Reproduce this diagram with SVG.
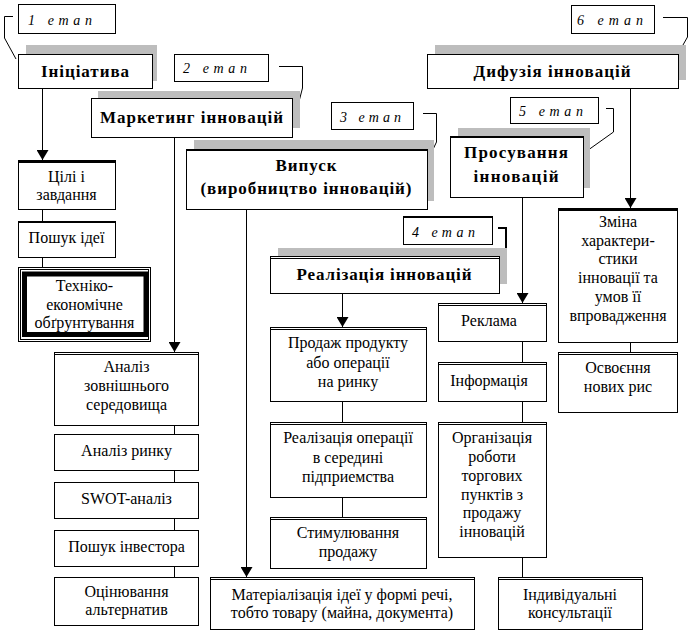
<svg xmlns="http://www.w3.org/2000/svg" width="694" height="632" viewBox="0 0 694 632">
<style>
.b{fill:#fff;stroke:#000;stroke-width:1}
.sh{fill:#bdbdbd}
.ln{fill:none;stroke:#000;stroke-width:1}
.tk{fill:none;stroke:#000;stroke-width:3}
.t{font-family:'Liberation Serif','Times New Roman',serif;font-size:16px;text-anchor:middle;fill:#000}
.h{font-family:'Liberation Serif','Times New Roman',serif;font-size:17px;font-weight:bold;text-anchor:middle;fill:#000}
.e{font-family:'Liberation Serif','Times New Roman',serif;font-size:14px;font-style:italic;fill:#000}
</style>
<defs>
<marker id="arr" markerUnits="userSpaceOnUse" markerWidth="10" markerHeight="12" refX="10" refY="6" orient="auto">
<path d="M0,0 L10,6 L0,12 z" fill="#000"/>
</marker>
</defs>
<rect width="694" height="632" fill="#fff"/>

<g id="connectors">
<path class="ln" d="M42.5,88 V160" marker-end="url(#arr)"/>
<path class="ln" d="M174.5,137 V352" marker-end="url(#arr)"/>
<path class="ln" d="M246.5,209 V577" marker-end="url(#arr)"/>
<path class="ln" d="M630.5,88 V208" marker-end="url(#arr)"/>
<path class="ln" d="M522.5,197 V303" marker-end="url(#arr)"/>
<path class="ln" d="M342.5,293 V327" marker-end="url(#arr)"/>
<path class="ln" d="M42.5,209 V221 M42.5,258 V267"/>
<path class="ln" d="M174.5,425 V434 M174.5,470 V482 M174.5,518 V530 M174.5,566 V578"/>
<path class="ln" d="M342.5,401 V422 M342.5,497 V517"/>
<path class="ln" d="M522.5,341 V362 M522.5,401 V422 M522.5,557 V577"/>
<path class="ln" d="M630.5,342 V352"/>
<polyline class="ln" points="13,16.5 4.5,16.5 4.5,38 16,59"/>
<polyline class="ln" points="279,66.5 302.5,66.5 302.5,88 295,117"/>
<polyline class="ln" points="423,113.5 436.5,113.5 436.5,142 427,162"/>
<polyline class="ln" style="stroke-width:2" points="498,228 506,228 506,250 499,268"/>
<polyline class="ln" points="606,108.5 613.5,108.5 613.5,132 584,153"/>
<polyline class="ln" points="663,17.5 687.5,17.5 687.5,37 679,52"/>
</g>

<g id="etap1"><rect class="b" x="18.5" y="4.5" width="97" height="29"/><text class="e" x="28" y="25" textLength="64">1 етап</text></g>
<g id="etap2"><rect class="b" x="174.5" y="54.5" width="94" height="27"/><text class="e" x="183" y="73" textLength="64">2 етап</text></g>
<g id="etap3"><rect class="b" x="331.5" y="102.5" width="82" height="27"/><text class="e" x="340" y="122" textLength="61">3 етап</text></g>
<g id="etap4"><rect class="b" x="403.5" y="216.5" width="89" height="28"/><line class="ln" x1="403" y1="217.5" x2="493" y2="217.5"/><text class="e" x="412" y="237" textLength="63">4 етап</text></g>
<g id="etap5"><rect class="b" x="510.5" y="97.5" width="88" height="26"/><text class="e" x="519" y="116" textLength="64">5 етап</text></g>
<g id="etap6"><rect class="b" x="571.5" y="5.5" width="83" height="28"/><text class="e" x="577" y="25" textLength="66">6 етап</text></g>

<g id="initiative"><rect class="sh" x="26" y="45" width="131" height="36"/><rect class="b" x="18.5" y="54.5" width="134" height="34"/><text class="h" x="85" y="77" textLength="88">Ініціатива</text></g>
<g id="marketing"><rect class="sh" x="98" y="91" width="202" height="37"/><rect class="b" x="91.5" y="98.5" width="201" height="39"/><text class="h" x="191.5" y="123" textLength="183">Маркетинг інновацій</text></g>
<g id="release"><rect class="sh" x="194" y="140" width="240" height="61"/><rect class="b" x="186.5" y="149.5" width="241" height="60"/><line class="ln" x1="186" y1="150.5" x2="428" y2="150.5"/><text class="h" x="306" y="171" textLength="61">Випуск</text><text class="h" x="306" y="194" textLength="211">(виробництво інновацій)</text></g>
<g id="diffusion"><rect class="sh" x="435" y="45" width="251" height="35"/><rect class="b" x="427.5" y="54.5" width="251" height="34"/><text class="h" x="552" y="77" textLength="157">Дифузія інновацій</text></g>
<g id="promotion"><rect class="sh" x="458" y="128" width="132" height="60"/><rect class="b" x="450.5" y="136.5" width="133" height="61"/><line class="ln" x1="450" y1="137.5" x2="584" y2="137.5"/><text class="h" x="516" y="158" textLength="104">Просування</text><text class="h" x="516" y="182" textLength="85">інновацій</text></g>
<g id="realization"><rect class="sh" x="278" y="248" width="229" height="36"/><rect class="b" x="270.5" y="256.5" width="229" height="37"/><line class="ln" x1="270" y1="258.5" x2="500" y2="258.5"/><text class="h" x="384" y="280" textLength="175">Реалізація інновацій</text></g>

<g id="goals"><rect class="b" x="18.5" y="160.5" width="97" height="49"/><line class="tk" x1="18" y1="161.5" x2="116" y2="161.5"/><text class="t" x="66.5" y="182">Цілі і</text><text class="t" x="66.5" y="200">завдання</text></g>
<g id="idea"><rect class="b" x="18.5" y="221.5" width="97" height="36"/><line class="ln" x1="18" y1="222.5" x2="116" y2="222.5"/><text class="t" x="66.5" y="243">Пошук ідеї</text></g>
<g id="feasibility"><rect class="b" x="18.5" y="267.5" width="132" height="74"/><rect class="ln" x="20.5" y="269.5" width="128" height="70"/><rect fill="none" stroke="#000" stroke-width="5" x="24.5" y="274" width="121.5" height="60.5"/><text class="t" x="84.5" y="291">Техніко-</text><text class="t" x="84.5" y="310">економічне</text><text class="t" x="84.5" y="328">обґрунтування</text></g>

<g id="env"><rect class="b" x="54.5" y="352.5" width="144" height="73"/><line class="ln" x1="54" y1="354.5" x2="199" y2="354.5"/><text class="t" x="126.5" y="372">Аналіз</text><text class="t" x="126.5" y="391">зовнішнього</text><text class="t" x="126.5" y="410">середовища</text></g>
<g id="market"><rect class="b" x="54.5" y="434.5" width="144" height="36"/><text class="t" x="126.5" y="456">Аналіз ринку</text></g>
<g id="swot"><rect class="b" x="54.5" y="482.5" width="144" height="36"/><text class="t" x="126.5" y="504">SWOT-аналіз</text></g>
<g id="investor"><rect class="b" x="54.5" y="530.5" width="144" height="36"/><text class="t" x="126.5" y="552">Пошук інвестора</text></g>
<g id="alternatives"><rect class="b" x="54.5" y="577.5" width="144" height="48"/><text class="t" x="126.5" y="597">Оцінювання</text><text class="t" x="126.5" y="615">альтернатив</text></g>

<g id="sale"><rect class="b" x="270.5" y="327.5" width="156" height="74"/><line class="ln" x1="270" y1="329.5" x2="427" y2="329.5"/><text class="t" x="348" y="348">Продаж продукту</text><text class="t" x="348" y="368">або операції</text><text class="t" x="348" y="387">на ринку</text></g>
<g id="internal"><rect class="b" x="270.5" y="422.5" width="156" height="75"/><line class="ln" x1="270" y1="424.5" x2="427" y2="424.5"/><text class="t" x="348" y="443">Реалізація операції</text><text class="t" x="348" y="463">в середині</text><text class="t" x="348" y="482">підприемства</text></g>
<g id="stimulation"><rect class="b" x="270.5" y="517.5" width="156" height="51"/><line class="ln" x1="270" y1="519.5" x2="427" y2="519.5"/><text class="t" x="348" y="538">Стимулювання</text><text class="t" x="348" y="557">продажу</text></g>

<g id="ads"><rect class="b" x="438.5" y="303.5" width="108" height="38"/><line class="ln" x1="438" y1="305.5" x2="547" y2="305.5"/><text class="t" x="489" y="326">Реклама</text></g>
<g id="info"><rect class="b" x="438.5" y="362.5" width="108" height="39"/><line class="ln" x1="438" y1="364.5" x2="547" y2="364.5"/><text class="t" x="489" y="386">Інформація</text></g>
<g id="outlets"><rect class="b" x="438.5" y="422.5" width="108" height="135"/><line class="ln" x1="438" y1="424.5" x2="547" y2="424.5"/><text class="t" x="492" y="443">Організація</text><text class="t" x="492" y="462">роботи</text><text class="t" x="492" y="481">торгових</text><text class="t" x="492" y="500">пунктів з</text><text class="t" x="492" y="518">продажу</text><text class="t" x="492" y="537">інновацій</text></g>
<g id="consult"><rect class="b" x="498.5" y="577.5" width="144" height="52"/><line class="ln" x1="498" y1="579.5" x2="643" y2="579.5"/><text class="t" x="570" y="600">Індивідуальні</text><text class="t" x="570" y="618">консультації</text></g>
<g id="material"><rect class="b" x="210.5" y="577.5" width="264" height="52"/><line class="ln" x1="210" y1="579.5" x2="475" y2="579.5"/><text class="t" x="342" y="600">Матеріалізація ідеї у формі речі,</text><text class="t" x="342" y="618">тобто товару (майна, документа)</text></g>

<g id="change"><rect class="b" x="558.5" y="208.5" width="119" height="134"/><line class="tk" x1="558" y1="209.5" x2="678" y2="209.5"/><text class="t" x="618" y="227">Зміна</text><text class="t" x="618" y="246">характери-</text><text class="t" x="618" y="264">стики</text><text class="t" x="618" y="283">інновації та</text><text class="t" x="618" y="302">умов її</text><text class="t" x="618" y="321">впровадження</text></g>
<g id="mastering"><rect class="b" x="558.5" y="352.5" width="119" height="60"/><line class="ln" x1="558" y1="354.5" x2="678" y2="354.5"/><text class="t" x="618" y="373">Освоєння</text><text class="t" x="618" y="392">нових рис</text></g>
</svg>
